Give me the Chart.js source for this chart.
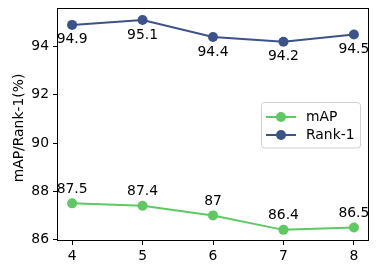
<!DOCTYPE html>
<html><head><meta charset="utf-8">
<script src="https://cdn.jsdelivr.net/npm/chart.js@4"></script>
<style>html,body{margin:0;padding:0;background:#fff}#w{width:377px;height:274px}</style>
</head><body><div id="w"><canvas id="c" width="377" height="274"></canvas></div>
<script>
const categories = [4, 5, 6, 7, 8];
const mapValues = [87.5, 87.4, 87, 86.4, 86.5];
const rank1Values = [94.9, 95.1, 94.4, 94.2, 94.5];
const yTicks = [86, 88, 90, 92, 94];
const mapLabels = ['87.5', '87.4', '87', '86.4', '86.5'];
const rank1Labels = ['94.9', '95.1', '94.4', '94.2', '94.5'];
const yTitle = 'mAP/Rank-1(%)';

const FONT = "'DejaVu Sans', sans-serif";
const FS = 13.9;
const GREEN = '#5ec962';
const BLUE = '#3b528b';

const labelPlugin = {
  id: 'vals',
  afterDatasetsDraw(chart) {
    const ctx = chart.ctx;
    ctx.save();
    ctx.font = FS + 'px ' + FONT;
    ctx.fillStyle = '#000';
    ctx.textAlign = 'center';
    ctx.textBaseline = 'middle';
    chart.data.datasets.forEach((ds, i) => {
      const meta = chart.getDatasetMeta(i);
      meta.data.forEach((pt, j) => {
        ctx.fillText(ds.valueLabels[j], pt.x, pt.y + ds.labelOffset);
      });
    });
    ctx.restore();
  },
  afterDraw(chart) {
    const ctx = chart.ctx;
    const a = chart.chartArea;
    ctx.save();
    ctx.strokeStyle = '#000';
    ctx.lineWidth = 1;
    const L = Math.round(a.left) - 0.5, T = Math.round(a.top) + 0.5, R = Math.round(a.right) + 0.5, B = Math.round(a.bottom) + 0.5;
    ctx.strokeRect(L, T, R - L, B - T);
    // y title
    ctx.save();
    ctx.translate(19, (a.top + a.bottom) / 2 + 4);
    ctx.rotate(-Math.PI / 2);
    ctx.font = FS + 'px ' + FONT;
    ctx.fillStyle = '#000';
    ctx.textAlign = 'center';
    ctx.textBaseline = 'middle';
    ctx.fillText(yTitle, 0, 0);
    ctx.restore();
    // legend
    const x0 = 261.5, y0 = 102.5, w = 99, h = 45.5, r = 3;
    ctx.beginPath();
    ctx.moveTo(x0 + r, y0);
    ctx.arcTo(x0 + w, y0, x0 + w, y0 + h, r);
    ctx.arcTo(x0 + w, y0 + h, x0, y0 + h, r);
    ctx.arcTo(x0, y0 + h, x0, y0, r);
    ctx.arcTo(x0, y0, x0 + w, y0, r);
    ctx.closePath();
    ctx.fillStyle = 'rgba(255,255,255,0.8)';
    ctx.fill();
    ctx.strokeStyle = '#d0d0d0';
    ctx.stroke();
    const rows = [[chart.data.datasets[0], 117], [chart.data.datasets[1], 135]];
    ctx.font = FS + 'px ' + FONT;
    ctx.textBaseline = 'middle';
    ctx.textAlign = 'left';
    rows.forEach(([ds, y]) => {
      ctx.strokeStyle = ds.borderColor;
      ctx.lineWidth = 2;
      ctx.beginPath();
      ctx.moveTo(266, y);
      ctx.lineTo(296, y);
      ctx.stroke();
      ctx.fillStyle = ds.borderColor;
      ctx.beginPath();
      ctx.arc(281, y, 5, 0, Math.PI * 2);
      ctx.fill();
      ctx.fillStyle = '#000';
      ctx.fillText(ds.label, 306, y);
    });
    ctx.restore();
  }
};

new Chart(document.getElementById('c'), {
  type: 'line',
  data: {
    datasets: [
      { label: 'mAP', data: categories.map((x, i) => ({x, y: mapValues[i]})), borderColor: GREEN, backgroundColor: GREEN,
        borderWidth: 2, pointRadius: 5, pointHoverRadius: 5, pointBorderWidth: 0, valueLabels: mapLabels, labelOffset: -14 },
      { label: 'Rank-1', data: categories.map((x, i) => ({x, y: rank1Values[i]})), borderColor: BLUE, backgroundColor: BLUE,
        borderWidth: 2, pointRadius: 5, pointHoverRadius: 5, pointBorderWidth: 0, valueLabels: rank1Labels, labelOffset: 15 }
    ]
  },
  options: {
    responsive: false,
    animation: false,
    layout: { padding: { top: 8, right: 9, left: 0, bottom: 0 } },
    plugins: { legend: { display: false }, tooltip: { enabled: false } },
    scales: {
      x: {
        type: 'linear', min: 3.8, max: 8.2,
        afterBuildTicks(s) { s.ticks = categories.map(v => ({value: v})); },
        afterFit(s) { s.height = 34; s.paddingLeft = 0; s.paddingRight = 0; },
        grid: { drawOnChartArea: false, drawTicks: true, tickLength: 5, color: '#000' },
        border: { display: false },
        ticks: { font: { family: FONT, size: FS }, color: '#000', padding: 3, maxRotation: 0 }
      },
      y: {
        type: 'linear', min: 85.98, max: 95.6,
        afterBuildTicks(s) { s.ticks = yTicks.map(v => ({value: v})); },
        afterFit(s) { s.width = 58; s.paddingTop = 0; s.paddingBottom = 0; },
        grid: { drawOnChartArea: false, drawTicks: true, tickLength: 5, color: '#000' },
        border: { display: false },
        title: { display: false },
        ticks: { font: { family: FONT, size: FS }, color: '#000', padding: 4 }
      }
    }
  },
  plugins: [labelPlugin]
});
</script></body></html>
